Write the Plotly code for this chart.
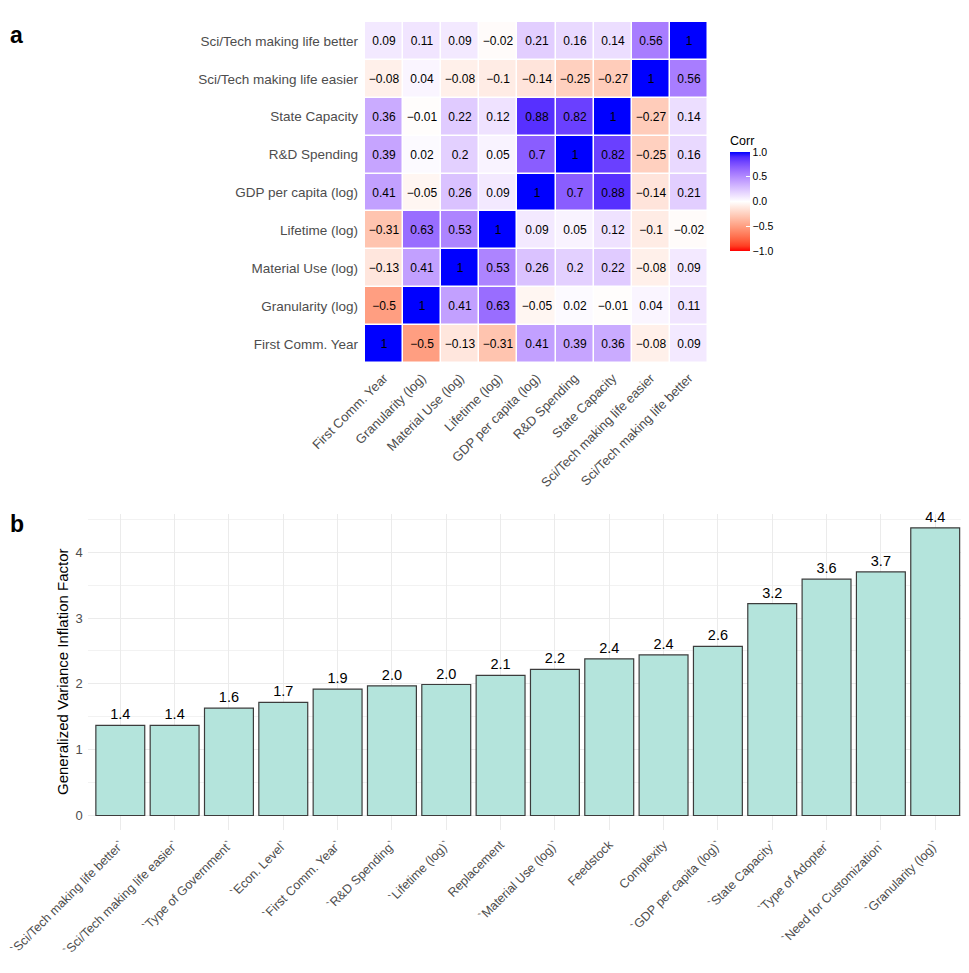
import numpy as np
import plotly.graph_objects as go

# ---- panel a: correlation matrix ----
variables = ["First Comm. Year", "Granularity (log)", "Material Use (log)", "Lifetime (log)",
             "GDP per capita (log)", "R&D Spending", "State Capacity",
             "Sci/Tech making life easier", "Sci/Tech making life better"]

corr_first_comm = [1, -0.5, -0.13, -0.31, 0.41, 0.39, 0.36, -0.08, 0.09]
corr_granularity = [-0.5, 1, 0.41, 0.63, -0.05, 0.02, -0.01, 0.04, 0.11]
corr_material = [-0.13, 0.41, 1, 0.53, 0.26, 0.2, 0.22, -0.08, 0.09]
corr_lifetime = [-0.31, 0.63, 0.53, 1, 0.09, 0.05, 0.12, -0.1, -0.02]
corr_gdp = [0.41, -0.05, 0.26, 0.09, 1, 0.7, 0.88, -0.14, 0.21]
corr_rd = [0.39, 0.02, 0.2, 0.05, 0.7, 1, 0.82, -0.25, 0.16]
corr_state = [0.36, -0.01, 0.22, 0.12, 0.88, 0.82, 1, -0.27, 0.14]
corr_easier = [-0.08, 0.04, -0.08, -0.1, -0.14, -0.25, -0.27, 1, 0.56]
corr_better = [0.09, 0.11, 0.09, -0.02, 0.21, 0.16, 0.14, 0.56, 1]

corr_rows = [corr_first_comm, corr_granularity, corr_material, corr_lifetime, corr_gdp,
             corr_rd, corr_state, corr_easier, corr_better]

# ---- panel b: GVIF ----
gvif_labels = ["`Sci/Tech making life better`", "`Sci/Tech making life easier`",
               "`Type of Government`", "`Econ. Level`", "`First Comm. Year`",
               "`R&D Spending`", "`Lifetime (log)`", "Replacement", "`Material Use (log)`",
               "Feedstock", "Complexity", "`GDP per capita (log)`", "`State Capacity`",
               "`Type of Adopter`", "`Need for Customization`", "`Granularity (log)`"]
gvif_values = [1.37, 1.37, 1.63, 1.72, 1.92, 1.97, 1.99, 2.13, 2.22,
               2.38, 2.44, 2.57, 3.22, 3.59, 3.70, 4.37]


# ggplot-like gradient2 (interpolated in Lab space)
def srgb_to_lab(c):
    c = np.array(c, dtype=float) / 255
    c = np.where(c > 0.04045, ((c + 0.055) / 1.055) ** 2.4, c / 12.92)
    m = np.array([[0.4124, 0.3576, 0.1805], [0.2126, 0.7152, 0.0722], [0.0193, 0.1192, 0.9505]])
    xyz = m @ c / np.array([0.95047, 1.0, 1.08883])
    f = np.where(xyz > 0.008856, np.cbrt(xyz), 7.787 * xyz + 16 / 116)
    return np.array([116 * f[1] - 16, 500 * (f[0] - f[1]), 200 * (f[1] - f[2])])


def lab_to_srgb(lab):
    fy = (lab[0] + 16) / 116
    fx = fy + lab[1] / 500
    fz = fy - lab[2] / 200
    f = np.array([fx, fy, fz])
    xyz = np.where(f ** 3 > 0.008856, f ** 3, (f - 16 / 116) / 7.787) * np.array([0.95047, 1.0, 1.08883])
    mi = np.array([[3.2406, -1.5372, -0.4986], [-0.9689, 1.8758, 0.0415], [0.0557, -0.2040, 1.0570]])
    c = mi @ xyz
    c = np.where(c > 0.0031308, 1.055 * np.abs(c) ** (1 / 2.4) - 0.055, 12.92 * c)
    c = np.clip(c, 0, 1) * 255
    return "rgb(%d,%d,%d)" % tuple(np.round(c))


red, white, blue = srgb_to_lab([255, 0, 0]), srgb_to_lab([255, 255, 255]), srgb_to_lab([0, 0, 255])
scale = []
for t in np.linspace(0, 1, 21):
    if t <= 0.5:
        lab = red + (white - red) * (t / 0.5)
    else:
        lab = white + (blue - white) * ((t - 0.5) / 0.5)
    scale.append([float(t), lab_to_srgb(lab)])


def fmt(v):
    s = ("%.2f" % v).rstrip("0").rstrip(".")
    return s.replace("-", "\u2212")


z = np.array(corr_rows)
cell_text = [[fmt(v) for v in row] for row in corr_rows]

# page body has an 8px margin, so work in window pixels and shift
W, H = 961, 965
OX, OY = 8, 8


def xp(px):
    return (px - OX) / W


def yp(py):
    return 1 - (py - OY) / H


font = "Liberation Sans"
gray = "#4d4d4d"

fig = go.Figure()

fig.add_trace(go.Heatmap(
    z=z, x=variables, y=variables, text=cell_text, texttemplate="%{text}",
    textfont=dict(size=12, color="black", family=font),
    colorscale=scale, zmin=-1, zmax=1, xgap=1.5, ygap=1.5,
    xaxis="x", yaxis="y",
    colorbar=dict(title=dict(text="Corr", font=dict(size=12.5, family=font, color="black"), side="top"),
                  x=xp(730), xanchor="left", y=yp(133), yanchor="top", ypad=0, xpad=0,
                  len=(251 - 133) / H, lenmode="fraction", thickness=20, outlinewidth=0,
                  tickvals=[-1, -0.5, 0, 0.5, 1],
                  ticktext=["\u22121.0", "\u22120.5", "0.0", "0.5", "1.0"],
                  ticks="inside", tickcolor="white", ticklen=4,
                  tickfont=dict(size=10.5, family=font, color="black")),
    hoverinfo="skip",
))

fig.add_trace(go.Bar(
    x=gvif_labels, y=gvif_values, xaxis="x2", yaxis="y2",
    marker=dict(color="#b4e4dc", line=dict(color="#3c3c3c", width=1.2)),
    width=0.9, text=gvif_values, texttemplate="%{y:.1f}", textposition="outside",
    textfont=dict(size=14.5, color="black", family=font), constraintext="none",
    cliponaxis=False, showlegend=False,
))

fig.update_layout(
    width=W, height=H, margin=dict(l=0, r=0, t=0, b=0),
    paper_bgcolor="white", plot_bgcolor="white",
    font=dict(family=font),
    xaxis=dict(domain=[xp(365), xp(708)], anchor="y", tickangle=-45, showgrid=False,
               zeroline=False, ticks="", tickfont=dict(size=13, color=gray),
               ticklabelstandoff=4, automargin=False),
    yaxis=dict(domain=[yp(363), yp(22)], anchor="x", showgrid=False,
               zeroline=False, ticks="", tickfont=dict(size=13.5, color=gray),
               ticklabelstandoff=6, automargin=False),
    xaxis2=dict(domain=[xp(87.7), xp(967.8)], anchor="y2", range=[-0.6, 15.6],
                tickangle=-45, showgrid=True, gridcolor="#ebebeb", gridwidth=1,
                zeroline=False, ticks="", tickfont=dict(size=12.5, color=gray),
                ticklabelstandoff=4, automargin=False),
    yaxis2=dict(domain=[yp(830), yp(514)], anchor="x2", range=[-0.22, 4.58],
                tickvals=[0, 1, 2, 3, 4], showgrid=True, gridcolor="#ebebeb", gridwidth=1,
                minor=dict(tickvals=[0.5, 1.5, 2.5, 3.5, 4.5], showgrid=True,
                           gridcolor="#f2f2f2", gridwidth=0.8),
                zeroline=False, ticks="", tickfont=dict(size=13, color=gray),
                ticklabelstandoff=4, automargin=False),
    annotations=[
        dict(text="<b>a</b>", x=xp(8), y=yp(35), xref="paper", yref="paper",
             showarrow=False, xanchor="left", yanchor="middle",
             font=dict(size=23, color="black", family=font)),
        dict(text="<b>b</b>", x=xp(8), y=yp(524), xref="paper", yref="paper",
             showarrow=False, xanchor="left", yanchor="middle",
             font=dict(size=23, color="black", family=font)),
        dict(text="Generalized Variance Inflation Factor", x=xp(62), y=yp(672),
             xref="paper", yref="paper", showarrow=False, textangle=-90,
             xanchor="center", yanchor="middle",
             font=dict(size=15, color="black", family=font)),
    ],
)

fig.write_html("out.html")
